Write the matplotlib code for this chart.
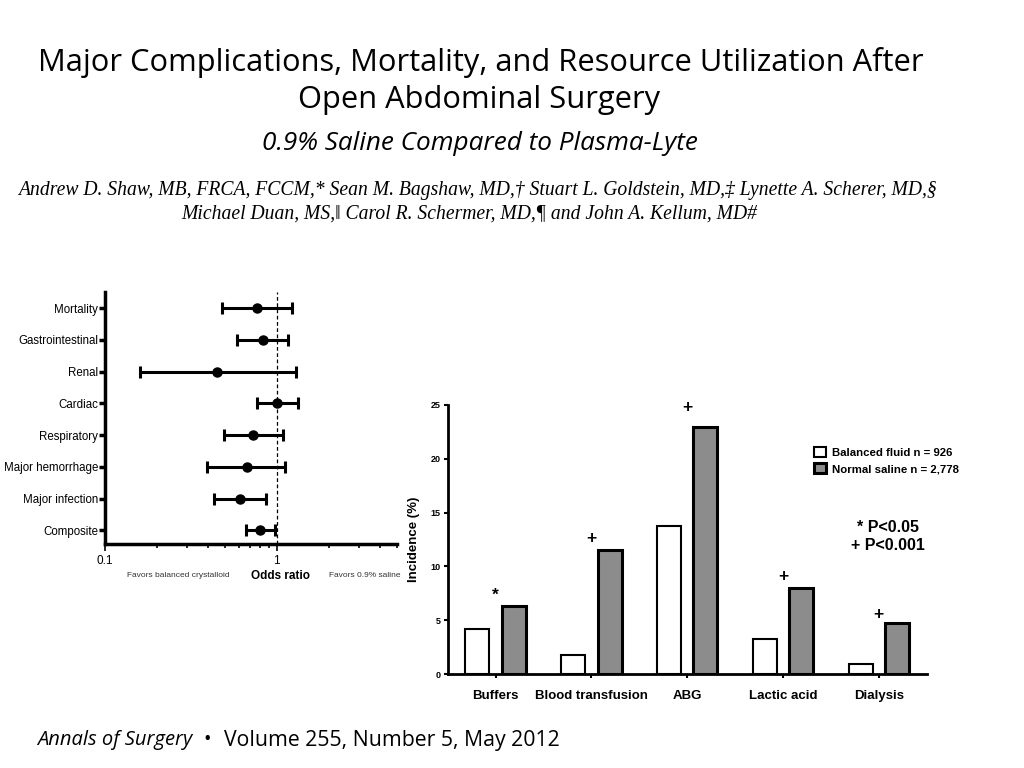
import numpy as np
import matplotlib
matplotlib.use('Agg')
import matplotlib.pyplot as plt

# forest plot data (odds ratio, 95% CI)
outcomes = ['Mortality', 'Gastrointestinal', 'Renal', 'Cardiac', 'Respiratory',
            'Major hemorrhage', 'Major infection', 'Composite']
odds = [0.77, 0.83, 0.45, 1.00, 0.73, 0.67, 0.61, 0.80]
ci_low = [0.48, 0.59, 0.16, 0.77, 0.49, 0.39, 0.43, 0.66]
ci_high = [1.23, 1.16, 1.29, 1.32, 1.08, 1.12, 0.86, 0.97]

# bar chart data (incidence %)
resources = ['Buffers', 'Blood transfusion', 'ABG', 'Lactic acid', 'Dialysis']
balanced = [4.2, 1.8, 13.8, 3.3, 1.0]
saline = [6.3, 11.5, 22.9, 8.0, 4.8]
signif = ['*', '+', '+', '+', '+']
sig_y = [7.3, 12.6, 24.7, 9.1, 5.5]

SANS = ['Liberation Sans', 'DejaVu Sans']
NARROW = ['Liberation Sans Narrow', 'Liberation Sans', 'DejaVu Sans']
HUMAN = ['Open Sans', 'DejaVu Sans']
SERIF = ['Liberation Serif', 'DejaVu Serif']

fig = plt.figure(figsize=(10.24, 7.68), dpi=100)
fig.patch.set_facecolor('white')

# header text
fig.text(0.469, 0.919, 'Major Complications, Mortality, and Resource Utilization After',
         ha='center', va='center', fontsize=22.2, family=HUMAN)
fig.text(0.468, 0.870, 'Open Abdominal Surgery',
         ha='center', va='center', fontsize=22.2, family=HUMAN)
fig.text(0.469, 0.813, '0.9% Saline Compared to Plasma-Lyte',
         ha='center', va='center', fontsize=18.8, style='italic', family=HUMAN)
fig.text(0.466, 0.752,
         'Andrew D. Shaw, MB, FRCA, FCCM,* Sean M. Bagshaw, MD,\u2020 Stuart L. Goldstein, MD,\u2021 Lynette A. Scherer, MD,\u00a7',
         ha='center', va='center', fontsize=14.1, style='italic', family=SERIF)
fig.text(0.458, 0.721,
         'Michael Duan, MS,\u2016 Carol R. Schermer, MD,\u00b6 and John A. Kellum, MD#',
         ha='center', va='center', fontsize=14.1, style='italic', family=SERIF)

# footer
fig.text(0.036, 0.036, 'Annals of Surgery', ha='left', va='center', fontsize=14.5,
         style='italic', family=HUMAN)
fig.text(0.202, 0.036, '\u2022', ha='center', va='center', fontsize=14.5, family=HUMAN)
fig.text(0.219, 0.036, 'Volume 255, Number 5, May 2012', ha='left', va='center',
         fontsize=15.3, family=HUMAN)

# ---------------- forest plot ----------------
ax1 = fig.add_axes([0.1025, 0.2917, 0.2852, 0.3283])
ypos = np.arange(len(outcomes))[::-1]
odds_a = np.array(odds)
err = [odds_a - np.array(ci_low), np.array(ci_high) - odds_a]
ax1.errorbar(odds, ypos, xerr=err, fmt='o', color='black', ms=6.5, lw=2.2,
             capsize=4.5, capthick=2.2, zorder=3)
ax1.axvline(1, color='black', ls='--', lw=0.9, dashes=(3, 2), zorder=1)
ax1.set_xscale('log')
ax1.set_xlim(0.1, 5)
ax1.set_ylim(-0.43, 7.51)
ax1.set_yticks(ypos)
ax1.set_yticklabels(outcomes, family=NARROW, fontsize=8.3)
ax1.set_xticks([0.1, 1])
ax1.set_xticklabels(['0.1', '1'], family=NARROW, fontsize=8.5)
ax1.xaxis.set_minor_locator(matplotlib.ticker.LogLocator(base=10, subs=np.arange(2, 10)))
ax1.xaxis.set_minor_formatter(matplotlib.ticker.NullFormatter())
for s in ['top', 'right']:
    ax1.spines[s].set_visible(False)
for s in ['left', 'bottom']:
    ax1.spines[s].set_linewidth(2.5)
ax1.tick_params(axis='y', length=4, width=2.5, pad=1)
ax1.tick_params(axis='x', which='major', length=5, width=1.2, pad=3)
ax1.tick_params(axis='x', which='minor', length=3, width=1.2)
ax1.set_facecolor('none')
ax1.text(0.25, -0.127, 'Favors balanced crystalloid', transform=ax1.transAxes,
         ha='center', va='center', fontsize=6, family=NARROW, color='#333333')
ax1.text(0.6, -0.127, 'Odds ratio', transform=ax1.transAxes,
         ha='center', va='center', fontsize=8.5, fontweight='bold', family=SANS)
ax1.text(0.89, -0.127, 'Favors 0.9% saline', transform=ax1.transAxes,
         ha='center', va='center', fontsize=6, family=NARROW, color='#333333')

# ---------------- bar chart ----------------
ax2 = fig.add_axes([0.4372, 0.122, 0.4678, 0.351])
x = np.arange(len(resources))
w = 0.25
off = 0.19
ax2.bar(x - off, balanced, w, color='white', edgecolor='black', lw=1.5,
        label='Balanced fluid n = 926')
ax2.bar(x + off, saline, w, color='#8c8c8c', edgecolor='black', lw=2.2,
        label='Normal saline n = 2,778')
for xi, v, s in zip(x, sig_y, signif):
    ax2.text(xi, v, s, ha='center', va='center', fontsize=12.5,
             fontweight='bold', family=SANS)
ax2.set_xlim(-0.5, 4.5)
ax2.set_ylim(0, 25)
ax2.set_yticks([0, 5, 10, 15, 20, 25])
ax2.set_yticklabels(['0', '5', '10', '15', '20', '25'], fontsize=6.5,
                    fontweight='bold', family=SANS)
ax2.set_xticks(x)
ax2.set_xticklabels(resources, fontsize=9.5, fontweight='bold', family=SANS)
ax2.set_ylabel('Incidence (%)', fontsize=9.5, fontweight='bold', family=SANS, labelpad=8)
for s in ['top', 'right']:
    ax2.spines[s].set_visible(False)
for s in ['left', 'bottom']:
    ax2.spines[s].set_linewidth(2)
ax2.tick_params(axis='y', length=3, width=1.5, pad=2)
ax2.tick_params(axis='x', length=3, width=1.5, pad=8)
ax2.set_facecolor('none')
ax2.legend(loc='upper left', bbox_to_anchor=(0.755, 0.86), frameon=False,
           prop={'family': SANS, 'weight': 'bold', 'size': 8.2},
           handlelength=1.1, handleheight=1.0, handletextpad=0.5, labelspacing=0.45,
           borderaxespad=0)
ax2.text(0.92, 0.51, '* P<0.05\n+ P<0.001', transform=ax2.transAxes, ha='center',
         va='center', fontsize=11.5, fontweight='bold', family=SANS, linespacing=1.25)

fig.savefig('out.png', dpi=100, facecolor='white')
